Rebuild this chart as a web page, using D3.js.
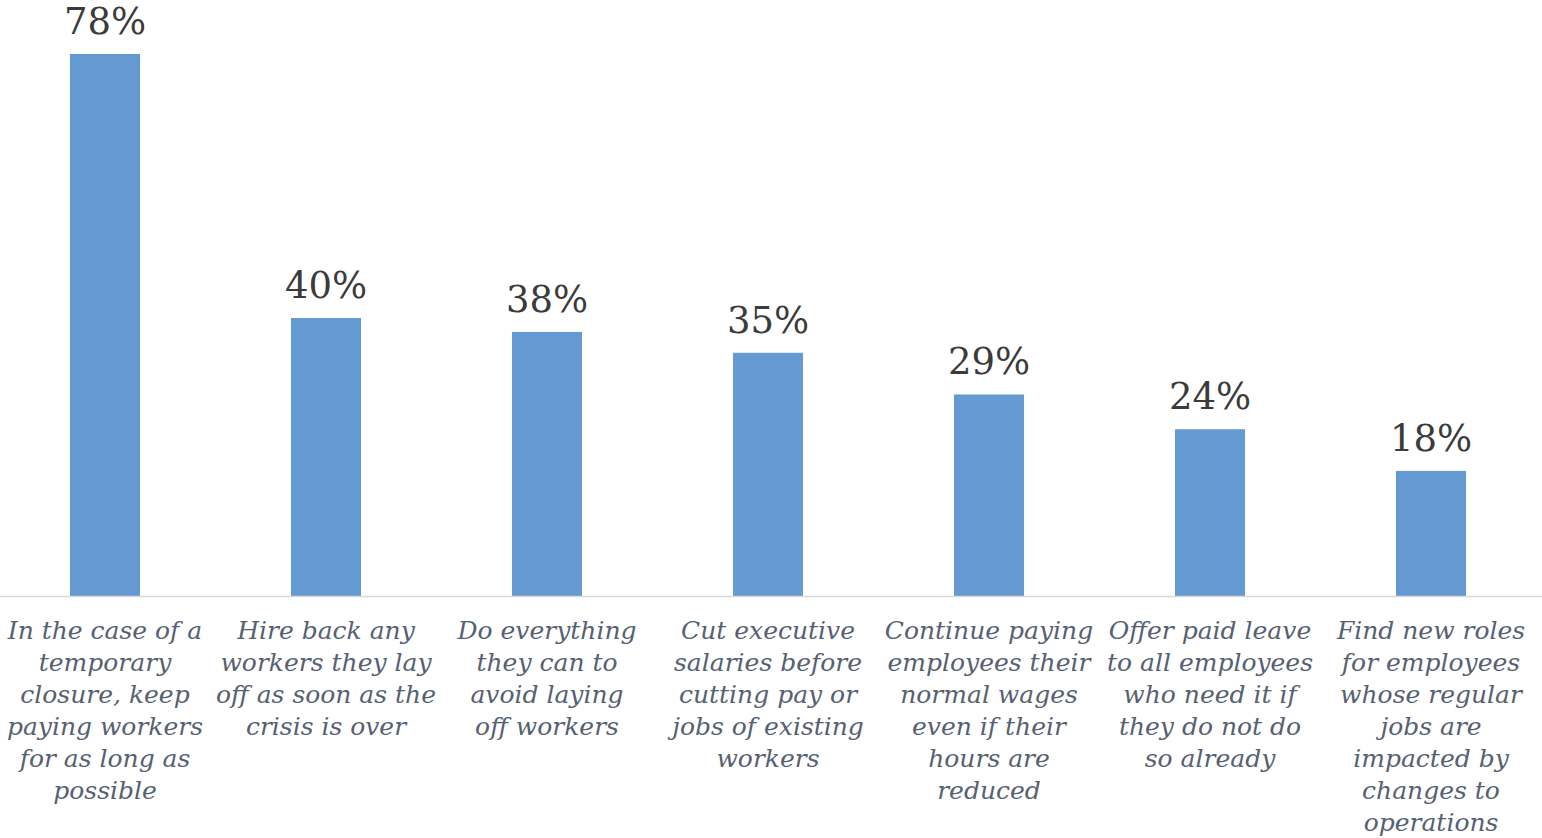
<!DOCTYPE html>
<html>
<head>
<meta charset="utf-8">
<script src="https://cdn.jsdelivr.net/npm/d3@7"></script>
<style>
  html, body { margin: 0; padding: 0; background: #ffffff; }
  svg { display: block; }
</style>
</head>
<body>
<svg id="chart" width="1542" height="838"></svg>
<script>
const categories = [
  "In the case of a temporary closure, keep paying workers for as long as possible",
  "Hire back any workers they lay off as soon as the crisis is over",
  "Do everything they can to avoid laying off workers",
  "Cut executive salaries before cutting pay or jobs of existing workers",
  "Continue paying employees their normal wages even if their hours are reduced",
  "Offer paid leave to all employees who need it if they do not do so already",
  "Find new roles for employees whose regular jobs are impacted by changes to operations"
];
const labelLines = [
  ["In the case of a", "temporary", "closure, keep", "paying workers", "for as long as", "possible"],
  ["Hire back any", "workers they lay", "off as soon as the", "crisis is over"],
  ["Do everything", "they can to", "avoid laying", "off workers"],
  ["Cut executive", "salaries before", "cutting pay or", "jobs of existing", "workers"],
  ["Continue paying", "employees their", "normal wages", "even if their", "hours are", "reduced"],
  ["Offer paid leave", "to all employees", "who need it if", "they do not do", "so already"],
  ["Find new roles", "for employees", "whose regular", "jobs are", "impacted by", "changes to", "operations"]
];
const values = [78, 40, 38, 35, 29, 24, 18];
const valueLabels = ["78%", "40%", "38%", "35%", "29%", "24%", "18%"];

const W = 1542, H = 838;
const baseY = 596, topY = 54;
const svg = d3.select("#chart");

const x = d3.scaleBand()
  .domain(categories)
  .range([-5.5, 1541.5])
  .paddingInner(0.683)
  .paddingOuter(0.3415);

const y = d3.scaleLinear()
  .domain([0, d3.max(values)])
  .range([baseY, topY]);

const data = categories.map((c, i) => ({ c, v: values[i], lab: valueLabels[i], lines: labelLines[i] }));

// bars
svg.append("g").selectAll("rect")
  .data(data)
  .join("rect")
  .attr("x", d => x(d.c))
  .attr("y", d => y(d.v))
  .attr("width", x.bandwidth())
  .attr("height", d => y(0) - y(d.v))
  .attr("fill", "#6499d2");

// axis line
svg.append("line")
  .attr("x1", 0).attr("x2", W)
  .attr("y1", y(0) + 0.5).attr("y2", y(0) + 0.5)
  .attr("stroke", "#d9d9d9")
  .attr("stroke-width", 1.6);

// value labels
svg.append("g").selectAll("text")
  .data(data)
  .join("text")
  .attr("x", d => x(d.c) + x.bandwidth() / 2)
  .attr("y", d => y(d.v) - 20)
  .attr("text-anchor", "middle")
  .attr("font-family", "'DejaVu Serif', serif")
  .attr("font-size", 37)
  .attr("fill", "#3b3b3b")
  .text(d => d.lab);

// category labels
const lg = svg.append("g").selectAll("text")
  .data(data)
  .join("text")
  .attr("text-anchor", "middle")
  .attr("font-family", "'DejaVu Serif', serif")
  .attr("font-style", "italic")
  .attr("font-size", 25)
  .attr("fill", "#566172")
  .attr("transform", d => `translate(${x(d.c) + x.bandwidth() / 2},${y(0) + 43})`);

lg.selectAll("tspan")
  .data(d => d.lines)
  .join("tspan")
  .attr("x", 0)
  .attr("y", (d, i) => i * 32)
  .text(d => d);
</script>
</body>
</html>
